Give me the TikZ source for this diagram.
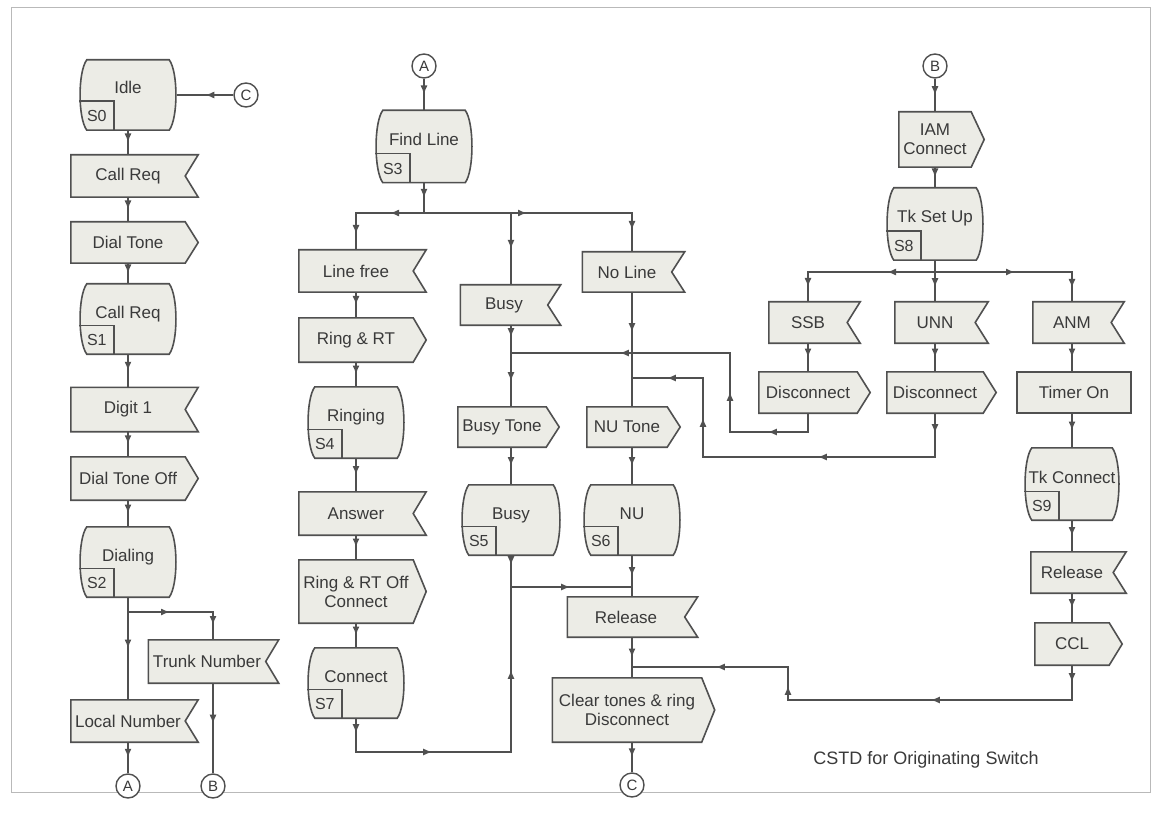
\documentclass[tikz,border=0pt]{standalone}
\usepackage{fontspec}
\setmainfont{Liberation Sans}
\usetikzlibrary{arrows.meta,decorations.markings}
\definecolor{linec}{RGB}{80,80,80}
\definecolor{fillc}{RGB}{236,236,230}
\definecolor{txtc}{RGB}{58,58,58}
\definecolor{framec}{RGB}{185,185,185}
\pgfdeclarelayer{background}
\pgfsetlayers{background,main}

\tikzset{
  lbl/.style={shape=rectangle, inner sep=0pt, text=txtc, align=center,
    font=\fontsize{17}{19}\selectfont},
  sigbox/.style={lbl, minimum width=#1},
  statebox/.style={lbl, minimum width=98pt, minimum height=70pt,
    text height=12pt, text depth=14pt},
  conn/.style={circle, draw=linec, line width=1.4pt, fill=white,
    minimum size=24pt, inner sep=0pt, text=txtc, font=\fontsize{15}{15}\selectfont},
  shp/.style={draw=linec, fill=fillc, line width=1.6pt, line join=miter},
  flow/.style={draw=linec, line width=1.5pt},
  ar/.style={postaction={decorate, decoration={markings,
    mark=at position #1 with {\arrow[linec]{Latex[length=9pt,width=7pt]}}}}},
}

% signal symbols: input (notched), output (pointed), task, state
\newcommand\insig[1]{\draw[shp] (#1.north west) -- ([xshift=13pt]#1.north east)
  -- (#1.east) -- ([xshift=13pt]#1.south east) -- (#1.south west) -- cycle;}
\newcommand\outsig[1]{\draw[shp] (#1.north west) -- (#1.north east)
  -- ([xshift=13pt]#1.east) -- (#1.south east) -- (#1.south west) -- cycle;}
\newcommand\tasksig[1]{\draw[shp] (#1.north west) rectangle (#1.south east);}
\newcommand\stateshape[2]{%
  \draw[shp] ([xshift=8pt]#1.north west) -- ([xshift=-8pt]#1.north east)
    .. controls ([xshift=1pt,yshift=-12pt]#1.north east) and ([xshift=1pt,yshift=12pt]#1.south east)
    .. ([xshift=-8pt]#1.south east) -- ([xshift=8pt]#1.south west)
    .. controls ([xshift=-1pt,yshift=12pt]#1.south west) and ([xshift=-1pt,yshift=-12pt]#1.north west)
    .. ([xshift=8pt]#1.north west) -- cycle;
  \draw[linec, line width=1.4pt] ([xshift=0.5pt,yshift=29pt]#1.south west)
    -- ([xshift=35pt,yshift=29pt]#1.south west) -- ([xshift=35pt]#1.south west);
  \node[lbl, font=\fontsize{16}{16}\selectfont] (#1-no) at ([xshift=18pt,yshift=14pt]#1.south west) {#2};}

\begin{document}
\begin{tikzpicture}[x=1pt, y=-1pt]
\begin{pgfonlayer}{background}
\fill[white] (0,0) rectangle (1159,818);
\end{pgfonlayer}
\useasboundingbox (0,0) rectangle (1159,818);
\draw[framec, line width=1pt] (11,8) rectangle (1150,792);

% ---------- calling side: idle to dialing ----------
\node[statebox] (idle) at (128,95) {Idle};
\node[conn] (cC1) at (246,95) {C};
\node[sigbox=114, minimum height=42] (callreq) at (128,176) {Call Req};
\node[sigbox=114, minimum height=41] (dialtone) at (128,242.5) {Dial Tone};
\node[statebox] (callreq1) at (128,319) {Call Req};
\node[sigbox=114, minimum height=44] (digit) at (128,409.5) {Digit 1};
\node[sigbox=114, minimum height=43] (dtoff) at (128,478.5) {Dial Tone Off};
\node[statebox] (dialing) at (128,562) {Dialing};
\node[sigbox=117, minimum height=43] (trunk) at (207,661.5) {Trunk Number};
\node[sigbox=114, minimum height=42] (local) at (128,721) {Local Number};
\node[conn] (cA1) at (128,786) {A};
\node[conn] (cB1) at (213,786) {B};
\coordinate (fork0) at (128,612);

% ---------- local call ----------
\node[conn] (cA2) at (424,66) {A};
\node[statebox, minimum height=72] (findline) at (424,146.5) {Find Line};
\coordinate (fork1) at (424,213);
\node[sigbox=114, minimum height=42] (linefree) at (356,271) {Line free};
\node[sigbox=114, minimum height=44] (ringrt) at (356,340) {Ring \& RT};
\node[statebox, minimum height=71] (ringing) at (356,422.5) {Ringing};
\node[sigbox=114, minimum height=43] (answer) at (356,513.5) {Answer};
\node[sigbox=114, minimum height=63] (ringoff) at (356,591.5) {Ring \& RT Off\\Connect};
\node[statebox] (connect) at (356,683) {Connect};
\coordinate (conret) at (511,752);
\coordinate (j5) at (511,587);

\coordinate (jbusy) at (511,353);
\node[sigbox=87, minimum height=40] (busy) at (504,305) {Busy};
\node[sigbox=88, minimum height=40] (busytone) at (502,427) {Busy Tone};
\node[statebox, minimum width=100] (busyst) at (511,520) {Busy};

\coordinate (jnu) at (632,378);
\node[sigbox=89, minimum height=40] (noline) at (627,272) {No Line};
\node[sigbox=80, minimum height=40] (nutone) at (627,427) {NU Tone};
\node[statebox] (nust) at (632,520) {NU};
\coordinate (j6) at (632,587);
\node[sigbox=117, minimum height=40] (release) at (626,617) {Release};
\coordinate (jrel) at (632,667);
\node[sigbox=149, minimum height=64] (clear) at (627,710) {Clear tones \& ring\\Disconnect};
\node[conn] (cC2) at (632,785) {C};

% ---------- trunk call ----------
\node[conn] (cB2) at (935,66) {B};
\node[sigbox=72, minimum height=55] (iam) at (935,139.5) {IAM\\Connect};
\node[statebox, minimum height=72] (tksetup) at (935,224) {Tk Set Up};
\coordinate (fork2) at (935,272);
\node[sigbox=78, minimum height=41] (ssb) at (808,322.5) {SSB};
\node[sigbox=80, minimum height=41] (unn) at (935,322.5) {UNN};
\node[sigbox=78, minimum height=41] (anm) at (1072,322.5) {ANM};
\node[sigbox=98, minimum height=41] (ssbdisc) at (808,392.5) {Disconnect};
\node[sigbox=96, minimum height=41] (unndisc) at (935,392.5) {Disconnect};
\coordinate (ssbret) at (730,432);
\coordinate (unnret) at (703,457);
\node[sigbox=114, minimum height=41] (timer) at (1074,392.5) {Timer On};
\node[statebox, minimum width=96, minimum height=72] (tkconn) at (1072,484) {Tk Connect};
\node[sigbox=82, minimum height=41] (rel2) at (1072,572.5) {Release};
\node[sigbox=74, minimum height=42] (ccl) at (1072,644) {CCL};
\coordinate (cclret) at (788,700);

\node[lbl, font=\fontsize{18}{18}\selectfont] (title) at (926,760) {CSTD for Originating Switch};

% ---------- symbol outlines ----------
\begin{pgfonlayer}{background}
  \stateshape{idle}{S0}
  \insig{callreq}
  \outsig{dialtone}
  \stateshape{callreq1}{S1}
  \insig{digit}
  \outsig{dtoff}
  \stateshape{dialing}{S2}
  \insig{trunk}
  \insig{local}
  \stateshape{findline}{S3}
  \insig{linefree}
  \outsig{ringrt}
  \stateshape{ringing}{S4}
  \insig{answer}
  \outsig{ringoff}
  \stateshape{connect}{S7}
  \insig{busy}
  \outsig{busytone}
  \stateshape{busyst}{S5}
  \insig{noline}
  \outsig{nutone}
  \stateshape{nust}{S6}
  \insig{release}
  \outsig{clear}
  \outsig{iam}
  \stateshape{tksetup}{S8}
  \insig{ssb}
  \insig{unn}
  \insig{anm}
  \outsig{ssbdisc}
  \outsig{unndisc}
  \tasksig{timer}
  \stateshape{tkconn}{S9}
  \insig{rel2}
  \outsig{ccl}
\end{pgfonlayer}

% ---------- transitions ----------
\draw[flow, ar=0.5] (cC1) -- (idle);
\draw[flow, ar=0.5] (idle) -- (callreq);
\draw[flow, ar=0.5] (callreq) -- (dialtone);
\draw[flow, ar=0.5] (dialtone) -- (callreq1);
\draw[flow, ar=0.5] (callreq1) -- (digit);
\draw[flow, ar=0.5] (digit) -- (dtoff);
\draw[flow, ar=0.5] (dtoff) -- (dialing);
\draw[flow, ar=0.5] (dialing) -- (local);
\draw[flow, ar=42pt, ar=98pt] (fork0) -| (trunk.north -| cB1);
\draw[flow, ar=0.5] (local) -- (cA1);
\draw[flow, ar=0.45] (trunk.south -| cB1) -- (cB1);

\draw[flow, ar=0.5] (cA2) -- (findline);
\draw[flow, ar=0.5] (findline) -- (fork1);
\draw[flow, ar=34pt, ar=89pt] (fork1) -| (linefree.north);
\draw[flow, ar=0.5] (jbusy |- fork1) -- (busy.north -| jbusy);
\draw[flow, ar=103pt, ar=225pt] (fork1) -| (noline.north -| jnu);
\draw[flow, ar=0.5] (linefree) -- (ringrt);
\draw[flow, ar=0.5] (ringrt) -- (ringing);
\draw[flow, ar=0.5] (ringing) -- (answer);
\draw[flow, ar=0.5] (answer) -- (ringoff);
\draw[flow, ar=0.5] (ringoff) -- (connect);
\draw[flow, ar=15pt, ar=110pt, ar=271pt] (connect.south) |- (conret) -- (j5);
\draw[flow, ar=12pt, ar=56pt] (busy.south -| jbusy) -- (busytone.north -| jbusy);
\draw[flow, ar=0.5] (busytone.south -| jbusy) -- (busyst);
\draw[flow, ar=10pt, ar=91pt] (busyst.south) |- (j6);
\draw[flow, ar=40pt] (noline.south -| jnu) -- (nutone.north -| jnu);
\draw[flow, ar=0.5] (nutone.south -| jnu) -- (nust);
\draw[flow, ar=0.5] (nust) -- (release.north -| jnu);
\draw[flow, ar=0.5] (release.south -| jnu) -- (clear.north -| jnu);
\draw[flow, ar=0.5] (clear.south -| jnu) -- (cC2);

\draw[flow, ar=0.5] (cB2) -- (iam);
\draw[flow, ar=0.5] (iam) -- (tksetup);
\draw[flow, ar=27pt] (tksetup) -- (unn);
\draw[flow, ar=48pt, ar=142pt] (fork2) -| (ssb.north);
\draw[flow, ar=80pt, ar=153pt] (fork2) -| (anm.north);
\draw[flow, ar=0.5] (ssb) -- (ssbdisc);
\draw[flow, ar=0.5] (unn) -- (unndisc);
\draw[flow, ar=0.5] (anm) -- (timer.north -| anm);
\draw[flow, ar=0.5] (timer.south -| anm) -- (tkconn);
\draw[flow, ar=0.5] (tkconn) -- (rel2);
\draw[flow, ar=0.5] (rel2) -- (ccl);
\draw[flow, ar=59pt, ar=137pt, ar=286pt] (ssbdisc.south) |- (ssbret) |- (jbusy);
\draw[flow, ar=20pt, ar=161pt, ar=315pt, ar=391pt] (unndisc.south) |- (unnret) |- (jnu);
\draw[flow, ar=17pt, ar=176pt, ar=333pt, ar=424pt] (ccl.south) |- (cclret) |- (jrel);
\end{tikzpicture}
\end{document}
